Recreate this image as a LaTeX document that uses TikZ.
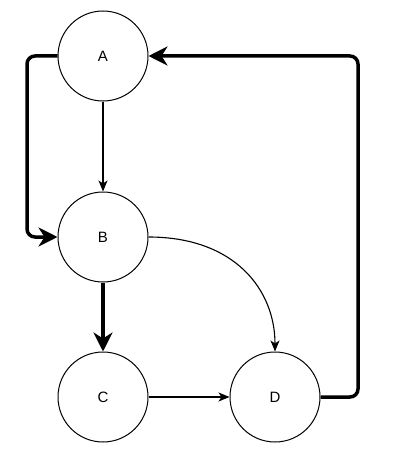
\documentclass[tikz,border=0pt]{standalone}
\usepackage{fontspec}
\setmainfont{Liberation Sans}
\usetikzlibrary{arrows.meta}
\begin{document}
\begin{tikzpicture}[x=1pt,y=-1pt,
  vtx/.style={circle,draw,line width=1pt,minimum size=90pt,inner sep=0pt,font=\fontsize{15}{17}\selectfont},
  thin/.style={line width=1.1pt,-{Stealth[length=11pt,width=9pt,inset=3pt]}},
  thick/.style={line width=3.5pt,-{Stealth[length=19pt,width=19pt,inset=6pt]},rounded corners=8pt}]
\useasboundingbox (0,0) rectangle (412,460);
\node[vtx] (A) at (103,56) {A};
\node[vtx] (B) at (103,237) {B};
\node[vtx] (C) at (103,397) {C};
\node[vtx] (D) at (275,397) {D};
\coordinate (l1) at (27,56);
\coordinate (l2) at (27,237);
\coordinate (r1) at (358,397);
\coordinate (r2) at (358,56);
\draw[thin] (A) -- (B);
\draw[thin] (C) -- (D);
\draw[thin] (B.east) .. controls (235,237) and (275,290) .. (D.north);
\draw[thick] (B) -- (C);
\draw[thick] (A.west) -- (l1) -- (l2) -- (B.west);
\draw[thick] (D.east) -- (r1) -- (r2) -- (A.east);
\end{tikzpicture}
\end{document}
